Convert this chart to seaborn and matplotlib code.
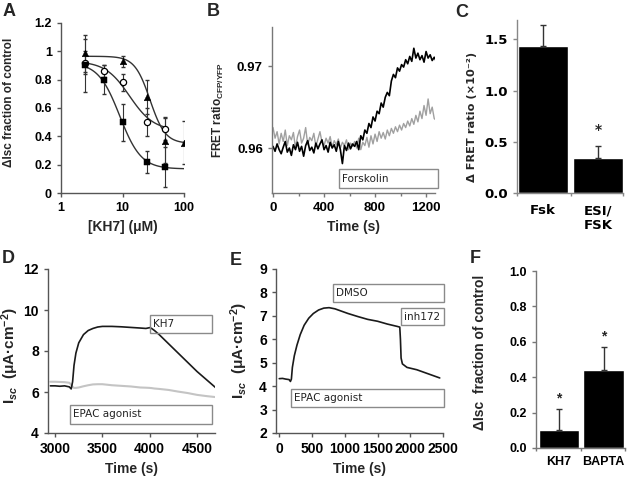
import numpy as np
import matplotlib
matplotlib.use('Agg')
import matplotlib.pyplot as plt
from matplotlib.patches import Rectangle
from matplotlib.ticker import MultipleLocator, FixedLocator, NullLocator
import seaborn as sns

# ---- panel A: KH7 dose response ----
tri_x = [2.5, 10, 25, 50, 100]
tri_y = [0.985, 0.93, 0.68, 0.37, 0.355]
tri_err = [0.13, 0.04, 0.12, 0.16, 0.15]
circ_x = [2.5, 5, 10, 25, 50]
circ_y = [0.92, 0.86, 0.78, 0.50, 0.455]
circ_err = [0.08, 0.04, 0.06, 0.10, 0.08]
sq_x = [2.5, 5, 10, 25, 50]
sq_y = [0.90, 0.80, 0.50, 0.22, 0.185]
sq_err = [0.19, 0.10, 0.13, 0.08, 0.14]
# fitted Hill curves: top, bottom, IC50, slope, last concentration
tri_fit = [0.965, 0.35, 28, 3.5, 100]
circ_fit = [0.93, 0.44, 13, 2.2, 50]
sq_fit = [0.92, 0.17, 9, 2.5, 100]

# ---- panel B: FRET trace (sampled every 16 s) ----
fret_t = list(range(0, 1281, 16))
fret_black = [0.9602, 0.9596, 0.9605, 0.9598, 0.9593, 0.9601, 0.9608, 0.9595, 0.9600, 0.9591,
              0.9604, 0.9598, 0.9607, 0.9596, 0.9602, 0.9590, 0.9603, 0.9609, 0.9597, 0.9601,
              0.9594, 0.9606, 0.9599, 0.9605, 0.9610, 0.9598, 0.9603, 0.9595, 0.9607, 0.9600,
              0.9604, 0.9596, 0.9608, 0.9598, 0.9581, 0.9603, 0.9597, 0.9606, 0.9599, 0.9605,
              0.9602, 0.9608, 0.9598, 0.9615, 0.9610, 0.9622, 0.9618, 0.9630, 0.9625, 0.9638,
              0.9633, 0.9645, 0.9642, 0.9655, 0.9650, 0.9662, 0.9668, 0.9664, 0.9682, 0.9690,
              0.9686, 0.9698, 0.9694, 0.9702, 0.9699, 0.9708, 0.9703, 0.9712, 0.9706, 0.9722,
              0.9710, 0.9716, 0.9708, 0.9713, 0.9705, 0.9718, 0.9710, 0.9714, 0.9707, 0.9711,
              0.9706]
fret_gray = [0.9625, 0.9612, 0.9620, 0.9605, 0.9618, 0.9608, 0.9622, 0.9603, 0.9615, 0.9610,
             0.9619, 0.9600, 0.9614, 0.9622, 0.9606, 0.9612, 0.9625, 0.9604, 0.9613, 0.9609,
             0.9618, 0.9602, 0.9611, 0.9620, 0.9607, 0.9603, 0.9612, 0.9606, 0.9614, 0.9601,
             0.9609, 0.9604, 0.9611, 0.9600, 0.9607, 0.9603, 0.9610, 0.9598, 0.9606, 0.9602,
             0.9608, 0.9600, 0.9612, 0.9598, 0.9607, 0.9603, 0.9613, 0.9601, 0.9615, 0.9605,
             0.9617, 0.9608, 0.9620, 0.9612, 0.9619, 0.9611, 0.9622, 0.9615, 0.9624, 0.9618,
             0.9626, 0.9620, 0.9628, 0.9622, 0.9630, 0.9625, 0.9633, 0.9627, 0.9636, 0.9629,
             0.9640, 0.9632, 0.9645, 0.9636, 0.9652, 0.9640, 0.9660, 0.9642, 0.9650, 0.9636,
             0.9634]

# ---- panel C ----
c_labels = ['Fsk', 'ESI/\nFSK']
c_values = [1.44, 0.34]
c_err = [0.20, 0.12]

# ---- panel D: Isc traces ----
d_t = [2950, 3000, 3050, 3100, 3150, 3170, 3185, 3200, 3220, 3250, 3300, 3350, 3400, 3450,
       3500, 3600, 3700, 3800, 3900, 3960, 4000, 4020, 4050, 4100, 4200, 4300, 4400, 4500,
       4600, 4700]
d_black = [6.30, 6.30, 6.28, 6.30, 6.25, 6.15, 6.50, 7.30, 7.90, 8.40, 8.80, 9.00, 9.10, 9.17,
           9.20, 9.20, 9.18, 9.15, 9.12, 9.10, 9.14, 9.10, 9.00, 8.80, 8.35, 7.90, 7.45, 7.00,
           6.60, 6.20]
d_gray = [6.50, 6.50, 6.49, 6.48, 6.45, 6.35, 6.25, 6.20, 6.20, 6.22, 6.28, 6.33, 6.37, 6.38,
          6.38, 6.33, 6.30, 6.27, 6.22, 6.21, 6.20, 6.19, 6.17, 6.15, 6.10, 6.02, 5.95, 5.86,
          5.80, 5.75]

# ---- panel E ----
e_t = [0, 50, 100, 150, 170, 185, 200, 230, 270, 320, 380, 450, 520, 600, 680, 760, 850,
       950, 1050, 1200, 1350, 1500, 1650, 1800, 1840, 1850, 1860, 1880, 1950, 2100, 2250,
       2400, 2450]
e_black = [4.32, 4.33, 4.30, 4.28, 4.20, 4.30, 4.80, 5.30, 5.75, 6.20, 6.60, 6.90, 7.10, 7.25,
           7.33, 7.35, 7.30, 7.20, 7.10, 6.97, 6.85, 6.77, 6.65, 6.55, 6.52, 6.00, 5.20, 4.95,
           4.80, 4.70, 4.55, 4.40, 4.35]

# ---- panel F ----
f_labels = ['KH7', 'BAPTA']
f_values = [0.10, 0.44]
f_err = [0.12, 0.13]

sns.set_style('ticks')
plt.rcParams['font.family'] = ['Liberation Sans', 'DejaVu Sans']
plt.rcParams['font.weight'] = 'bold'
plt.rcParams['axes.labelweight'] = 'bold'
plt.rcParams['mathtext.fontset'] = 'custom'
plt.rcParams['mathtext.rm'] = 'Liberation Sans'
plt.rcParams['mathtext.bf'] = 'Liberation Sans:bold'
plt.rcParams['mathtext.it'] = 'Liberation Sans:italic:bold'

SPINE = '#555555'
W, H = 629, 484


def make_axes(fig, x0, x1, y0, y1):
    # pixel box -> figure fraction
    return fig.add_axes([x0 / W, 1 - y1 / H, (x1 - x0) / W, (y1 - y0) / H])


def style(ax, size, spine=SPINE):
    sns.despine(ax=ax)
    for s in ['left', 'bottom']:
        ax.spines[s].set_color(spine)
        ax.spines[s].set_linewidth(1.0)
    ax.tick_params(colors=spine, labelcolor='black', labelsize=size, length=3, width=1)
    ax.tick_params(which='minor', colors=spine, length=2, width=1)
    ax.set_facecolor('none')


def label_box(ax, x0, x1, y0, y1, text):
    ax.add_patch(Rectangle((x0, y0), x1 - x0, y1 - y0, fill=False, edgecolor='#8a8a8a',
                           lw=1.0, clip_on=False, zorder=5))
    ax.annotate(text, (x0, (y0 + y1) / 2), xytext=(2, 0), textcoords='offset points',
                va='center', ha='left', fontsize=7.5, family='DejaVu Sans',
                fontweight='normal', color='#222222', annotation_clip=False)


def hill(params):
    top, bottom, ic50, h, xmax = params
    x = np.logspace(np.log10(2.5), np.log10(xmax), 120)
    return x, bottom + (top - bottom) / (1 + (x / ic50) ** h)


fig = plt.figure(figsize=(W / 100, H / 100), dpi=100)

# ---------------- A ----------------
ax = make_axes(fig, 61, 184, 23, 193)
for xs, ys, es, fit in [(tri_x, tri_y, tri_err, tri_fit),
                        (circ_x, circ_y, circ_err, circ_fit),
                        (sq_x, sq_y, sq_err, sq_fit)]:
    fx, fy = hill(fit)
    sns.lineplot(x=fx, y=fy, color='#333333', lw=1.0, ax=ax)
    ax.errorbar(xs, ys, yerr=es, fmt='none', ecolor='#333333', elinewidth=0.8, capsize=1.5)
sns.scatterplot(x=tri_x, y=tri_y, marker='^', s=22, color='black', edgecolor='black', ax=ax, zorder=4)
sns.scatterplot(x=circ_x, y=circ_y, marker='o', s=20, color='white', edgecolor='black',
                linewidth=0.9, ax=ax, zorder=4)
sns.scatterplot(x=sq_x, y=sq_y, marker='s', s=18, color='black', edgecolor='black', ax=ax, zorder=4)
ax.set_xscale('log')
ax.set_xlim(1, 100)
ax.set_ylim(0, 1.2)
ax.xaxis.set_major_locator(FixedLocator([1, 10, 100]))
ax.xaxis.set_minor_locator(NullLocator())
ax.set_xticklabels(['1', '10', '100'])
ax.set_yticks([0, 0.2, 0.4, 0.6, 0.8, 1.0, 1.2])
ax.set_yticklabels(['0', '0.2', '0.4', '0.6', '0.8', '1', '1.2'])
style(ax, 9)
ax.set_xlabel('[KH7] (μM)', fontsize=10)
ax.set_ylabel('ΔIsc fraction of control', fontsize=8.5)
ax.yaxis.set_label_coords(-0.37, 0.535)

# ---------------- B ----------------
ax = make_axes(fig, 272, 435, 27, 193)
sns.lineplot(x=fret_t, y=fret_gray, color='#a0a0a0', lw=1.0, ax=ax)
sns.lineplot(x=fret_t, y=fret_black, color='black', lw=1.2, ax=ax)
ax.set_xlim(-8, 1270)
ax.set_ylim(0.9545, 0.9748)
ax.set_xticks([0, 400, 800, 1200])
ax.xaxis.set_minor_locator(MultipleLocator(200))
ax.set_yticks([0.96, 0.97])
ax.set_yticklabels(['0.96', '0.97'])
style(ax, 9.5, spine='#777777')
label_box(ax, 517, 1290, 0.9551, 0.9574, 'Forskolin')
ax.set_xlabel('Time (s)', fontsize=10)
ax.set_ylabel(r'FRET ratio$_{\mathbf{CFP/YFP}}$', fontsize=8.5)
ax.yaxis.set_label_coords(-0.28, 0.5)

# ---------------- C ----------------
ax = make_axes(fig, 517, 623, 20, 193)
sns.barplot(x=c_labels, y=c_values, color='black', saturation=1, width=0.9, ax=ax)
ax.errorbar([0, 1], c_values, yerr=[[0, 0], c_err], fmt='none', ecolor='#333333',
            elinewidth=1, capsize=2)
ax.text(1, 0.62, '*', ha='center', va='center', fontsize=10, family='DejaVu Sans')
ax.set_xlim(-0.47, 1.45)
ax.set_ylim(0, 1.69)
ax.set_yticks([0, 0.5, 1.0, 1.5])
ax.set_yticklabels(['0.0', '0.5', '1.0', '1.5'], family='DejaVu Sans')
ax.set_xticks([0, 1])
ax.set_xticklabels(c_labels, family='DejaVu Sans', fontsize=9.5)
ax.xaxis.set_minor_locator(FixedLocator([-0.47, 0.5, 1.45]))
style(ax, 9.5, spine='#888888')
ax.tick_params(axis='x', which='major', length=0, pad=8)
ax.set_xlabel('')
ax.set_ylabel('Δ FRET ratio (×10⁻²)', fontsize=8.2, family='DejaVu Sans')
ax.yaxis.set_label_coords(-0.38, 0.44)

# ---------------- D ----------------
ax = make_axes(fig, 48, 215, 269, 433)
sns.lineplot(x=d_t, y=d_gray, color='#c4c4c4', lw=1.5, ax=ax)
sns.lineplot(x=d_t, y=d_black, color='#1a1a1a', lw=1.2, ax=ax)
ax.set_xlim(2925, 4690)
ax.set_ylim(4, 12)
ax.set_xticks([3000, 3500, 4000, 4500])
ax.set_yticks([4, 6, 8, 10, 12])
style(ax, 10)
label_box(ax, 4002, 4656, 8.88, 9.76, 'KH7')
label_box(ax, 3158, 4656, 4.44, 5.37, 'EPAC agonist')
ax.set_xlabel('Time (s)', fontsize=10)
ax.set_ylabel(r'$\mathbf{I}_{sc}$  (μA·cm$^{\mathbf{-2}}$)', fontsize=11)
ax.yaxis.set_label_coords(-0.16, 0.47)

# ---------------- E ----------------
ax = make_axes(fig, 276, 443, 269, 433)
sns.lineplot(x=e_t, y=e_black, color='#1a1a1a', lw=1.2, ax=ax)
ax.set_xlim(-50, 2500)
ax.set_ylim(2, 9)
ax.set_xticks([0, 500, 1000, 1500, 2000, 2500])
ax.set_yticks([2, 3, 4, 5, 6, 7, 8, 9])
style(ax, 10)
label_box(ax, 826, 2509, 7.59, 8.36, 'DMSO')
label_box(ax, 1866, 2509, 6.61, 7.33, 'inh172')
label_box(ax, 184, 2509, 3.10, 3.87, 'EPAC agonist')
ax.set_xlabel('Time (s)', fontsize=10)
ax.set_ylabel(r'$\mathbf{I}_{sc}$  (μA·cm$^{\mathbf{-2}}$)', fontsize=11)
ax.yaxis.set_label_coords(-0.155, 0.5)

# ---------------- F ----------------
ax = make_axes(fig, 536, 625, 271, 448)
sns.barplot(x=f_labels, y=f_values, color='black', saturation=1, width=0.91, ax=ax)
ax.errorbar([0, 1], f_values, yerr=[[0, 0], f_err], fmt='none', ecolor='#333333',
            elinewidth=1, capsize=2)
ax.text(0, 0.28, '*', ha='center', va='center', fontsize=10)
ax.text(1, 0.63, '*', ha='center', va='center', fontsize=10)
ax.set_xlim(-0.517, 1.483)
ax.set_ylim(0, 1.0)
ax.set_yticks([0, 0.2, 0.4, 0.6, 0.8, 1.0])
ax.set_yticklabels(['0.0', '0.2', '0.4', '0.6', '0.8', '1.0'])
ax.xaxis.set_minor_locator(FixedLocator([-0.517, 0.5, 1.483]))
style(ax, 9, spine='#777777')
ax.tick_params(axis='x', which='major', length=0, pad=6)
ax.set_xlabel('')
ax.set_ylabel('ΔIsc  fraction of control', fontsize=10)
ax.yaxis.set_label_coords(-0.55, 0.54)

# panel letters
for letter, px, py in [('A', 3, 3), ('B', 207, 3), ('C', 455, 4),
                       ('D', 2, 250), ('E', 230, 252), ('F', 470, 250)]:
    fig.text(px / W, 1 - py / H, letter, fontsize=13, fontweight='bold', va='top', ha='left')

fig.savefig('out.png', dpi=100)
